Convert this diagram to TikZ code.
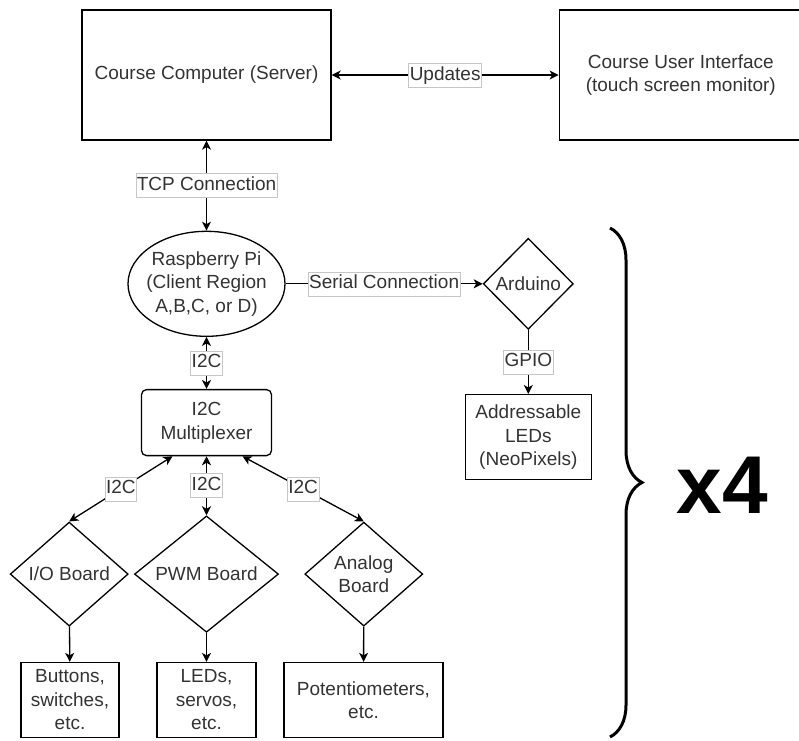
\documentclass[tikz,border=0pt]{standalone}
\usepackage{fontspec}
\setmainfont{Liberation Sans}
\usepackage{tikz}
\usetikzlibrary{positioning,arrows.meta,shapes.geometric,decorations.pathreplacing}

\begin{document}
\begin{tikzpicture}[x=1pt, y=-1pt,
  font=\fontsize{19}{23.5}\selectfont,
  box/.style={draw, line width=1.3pt, align=center, inner sep=0pt, text=black!80},
  rbox/.style={box, rounded corners=5pt},
  pibox/.style={draw, ellipse, line width=1.3pt, align=center, inner xsep=-12pt, inner ysep=0pt,
    minimum width=157pt, minimum height=105pt, text=black!80},
  dec/.style={draw, diamond, line width=1.3pt, align=center, inner sep=0pt, text=black!80},
  lbl/.style={fill=white, draw=gray!45, line width=0.6pt, inner xsep=1pt, inner ysep=3pt,
    text height=14pt, text depth=4pt, text=black!80},
  ar/.style={line width=1.3pt, -{Stealth[length=9pt, width=9pt, inset=2.5pt]}},
  biar/.style={line width=1.3pt, {Stealth[length=9pt, width=9pt, inset=2.5pt]}-{Stealth[length=9pt, width=9pt, inset=2.5pt]}},
  brc/.style={decorate, decoration={brace, amplitude=32pt}, line width=3pt}]

  \useasboundingbox (0,0) rectangle (799,740);

  \node[box, minimum width=249pt, minimum height=130pt] (srv) at (206.5,75) {Course Computer (Server)};
  \node[box, minimum width=243pt, minimum height=130pt, right=227pt of srv] (ui) {Course User Interface\\(touch screen monitor)};
  \node[pibox, below=90pt of srv] (rpi) {Raspberry Pi\\(Client Region\\A,B,C, or D)};
  \node[dec, minimum width=90pt, minimum height=91pt, right=197pt of rpi] (ard) {Arduino};
  \node[box, minimum width=126pt, minimum height=85pt, below=64pt of ard] (leds) {Addressable\\LEDs\\(NeoPixels)};
  \node[rbox, minimum width=130pt, minimum height=66pt, below=52pt of rpi] (mux) {I2C\\Multiplexer};
  \node[dec, minimum width=144pt, minimum height=116pt, below=59pt of mux] (pwm) {PWM Board};
  \node[dec, minimum width=118pt, minimum height=104pt, left=5pt of pwm] (io) {I/O Board};
  \node[dec, minimum width=118pt, minimum height=104pt, right=25pt of pwm] (adc) {Analog\\Board};
  \node[box, minimum width=98pt, minimum height=75pt] (btn) at (70,700) {Buttons,\\switches,\\etc.};
  \node[box, minimum width=99pt, minimum height=75pt] (srv2) at (206.5,700) {LEDs,\\servos,\\etc.};
  \node[box, minimum width=159pt, minimum height=75pt] (pot) at (363.5,700) {Potentiometers,\\etc.};

  \coordinate (btop) at (610,228);
  \coordinate (bbot) at (610,737);
  \node[font=\fontsize{82}{82}\selectfont\bfseries] (times) at (722,485) {x4};

  \draw[biar] (srv) -- (ui) node[midway, lbl] {Updates};
  \draw[biar] (srv) -- (rpi) node[midway, lbl] {TCP Connection};
  \draw[ar] (rpi) -- (ard) node[midway, lbl] {Serial Connection};
  \draw[ar] (ard) -- (leds) node[midway, lbl] {GPIO};
  \draw[biar] (rpi) -- (mux) node[midway, lbl] {I2C};
  \draw[biar] ([xshift=-34pt]mux.south) -- (io.north) node[midway, lbl] {I2C};
  \draw[biar] (mux) -- (pwm) node[midway, lbl] {I2C};
  \draw[biar] ([xshift=36pt]mux.south) -- (adc.north) node[midway, lbl] {I2C};
  \draw[ar] (io) -- (btn);
  \draw[ar] (pwm) -- (srv2);
  \draw[ar] (adc) -- (pot);
  \draw[brc] (btop) -- (bbot);
\end{tikzpicture}
\end{document}
